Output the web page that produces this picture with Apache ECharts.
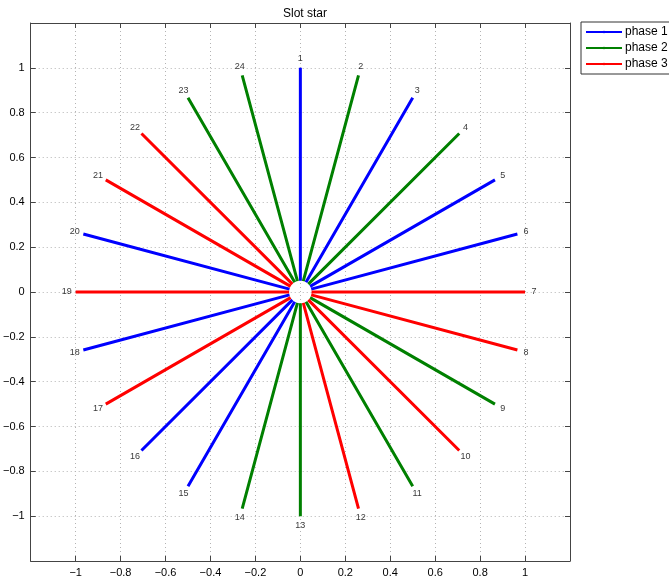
<!DOCTYPE html>
<html>
<head>
<meta charset="utf-8">
<script src="https://cdn.jsdelivr.net/npm/echarts@6/dist/echarts.min.js"></script>
<style>
  html, body { margin: 0; padding: 0; background: #fff; }
  #chart { width: 669px; height: 585px; }
</style>
</head>
<body>
<div id="chart"></div>
<script>
  // slot star data
  var slotNumbers = [1, 2, 3, 4, 5, 6, 7, 8, 9, 10, 11, 12, 13, 14, 15, 16, 17, 18, 19, 20, 21, 22, 23, 24];
  var slotAngles = [90, 75, 60, 45, 30, 15, 0, -15, -30, -45, -60, -75, -90, -105, -120, -135, -150, -165, 180, 165, 150, 135, 120, 105];
  var slotPhase = [1, 2, 1, 2, 1, 1, 3, 3, 2, 3, 2, 3, 2, 2, 1, 1, 3, 1, 3, 1, 3, 3, 2, 2];
  var phaseNames = ['phase 1', 'phase 2', 'phase 3'];
  var phaseColors = ['#0000ff', '#008000', '#ff0000'];
  var tickValues = [-1, -0.8, -0.6, -0.4, -0.2, 0, 0.2, 0.4, 0.6, 0.8, 1];

  var innerR = 0.05, outerR = 1, labelR = 1.04;

  function fmt(v) {
    var r = Math.round(v * 10) / 10;
    for (var i = 0; i < tickValues.length; i++) {
      if (Math.abs(tickValues[i] - r) < 1e-6) return (r < 0 ? '\u2212' + (-r) : '' + r);
    }
    return '';
  }

  var chart = echarts.init(document.getElementById('chart'));

  var series = [];
  phaseNames.forEach(function (name, p) {
    var data = [];
    slotNumbers.forEach(function (n, i) {
      if (slotPhase[i] !== p + 1) return;
      var a = slotAngles[i] * Math.PI / 180;
      data.push([innerR * Math.cos(a), innerR * Math.sin(a)]);
      data.push([outerR * Math.cos(a), outerR * Math.sin(a)]);
      data.push('-');
    });
    series.push({
      name: name,
      type: 'line',
      data: data,
      symbol: 'none',
      connectNulls: false,
      lineStyle: { color: phaseColors[p], width: 3 },
      itemStyle: { color: phaseColors[p] },
      animation: false
    });
  });

  var labelData = slotNumbers.map(function (n, i) {
    var a = slotAngles[i] * Math.PI / 180;
    return [labelR * Math.cos(a), labelR * Math.sin(a), n];
  });
  series.push({
    type: 'scatter',
    data: labelData,
    symbolSize: 0,
    silent: true,
    animation: false,
    label: {
      show: true,
      position: 'inside',
      formatter: function (p) { return p.value[2]; },
      color: '#000',
      fontSize: 9,
      fontFamily: 'Liberation Sans'
    }
  });

  var option = {
    backgroundColor: '#fff',
    textStyle: { fontFamily: 'Liberation Sans' },
    title: {
      text: 'Slot star',
      left: 300,
      textAlign: 'center',
      top: 3,
      textStyle: { fontSize: 12, fontWeight: 'normal', color: '#000' }
    },
    legend: {
      data: phaseNames,
      orient: 'vertical',
      left: 581,
      top: 22,
      itemWidth: 36,
      itemHeight: 3,
      itemGap: 4,
      padding: [4, 5, 4, 4],
      borderColor: '#333',
      borderWidth: 1,
      textStyle: { fontSize: 12, color: '#000', padding: [0, 0, 0, -2] }
    },
    grid: { left: 30, right: 99, top: 23, bottom: 24, containLabel: false },
    xAxis: [{
      type: 'value', min: -1.2, max: 1.2, interval: 0.2,
      axisLine: { show: true, onZero: false, lineStyle: { color: '#444' } },
      axisTick: { show: true, inside: true, length: 5, lineStyle: { color: '#444' } },
      axisLabel: { formatter: fmt, color: '#000', fontSize: 11, margin: 6 },
      splitLine: { show: true, lineStyle: { color: '#b4b4b4', type: [1, 3] } }
    }, {
      type: 'value', position: 'top', min: -1.2, max: 1.2, interval: 0.2,
      axisLine: { show: true, onZero: false, lineStyle: { color: '#444' } },
      axisTick: { show: true, inside: true, length: 5, lineStyle: { color: '#444' } },
      axisLabel: { show: false },
      splitLine: { show: false }
    }],
    yAxis: [{
      type: 'value', min: -1.2, max: 1.2, interval: 0.2,
      axisLine: { show: true, onZero: false, lineStyle: { color: '#444' } },
      axisTick: { show: true, inside: true, length: 5, lineStyle: { color: '#444' } },
      axisLabel: { formatter: fmt, color: '#000', fontSize: 11, margin: 6 },
      splitLine: { show: true, lineStyle: { color: '#b4b4b4', type: [1, 3] } }
    }, {
      type: 'value', position: 'right', min: -1.2, max: 1.2, interval: 0.2,
      axisLine: { show: true, onZero: false, lineStyle: { color: '#444' } },
      axisTick: { show: true, inside: true, length: 5, lineStyle: { color: '#444' } },
      axisLabel: { show: false },
      splitLine: { show: false }
    }],
    series: series
  };

  chart.setOption(option);
</script>
</body>
</html>
